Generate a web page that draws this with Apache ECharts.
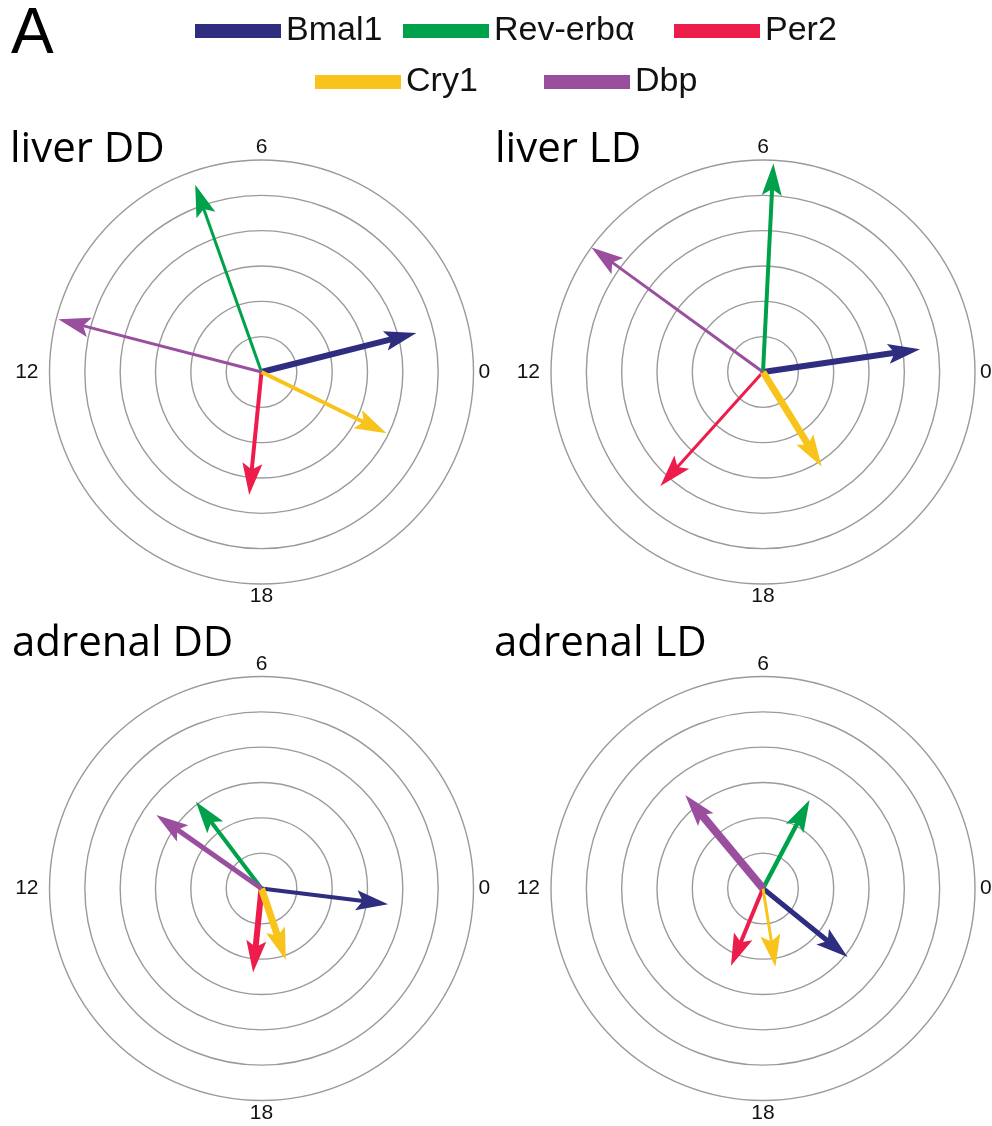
<!DOCTYPE html>
<html>
<head>
<meta charset="utf-8">
<script src="https://cdn.jsdelivr.net/npm/echarts@6/dist/echarts.min.js"></script>
<style>
  html, body { margin: 0; padding: 0; background: #ffffff; }
  #chart { width: 992px; height: 1126px; }
</style>
</head>
<body>
<div id="chart"></div>
<script>
// Clock genes shown as phase vectors (angle = peak time in h, length = amplitude)
const genes = ['Bmal1', 'Rev-erbα', 'Per2', 'Cry1', 'Dbp'];
const panelTitles = ['liver DD', 'liver LD', 'adrenal DD', 'adrenal LD'];
const hourTicks = [0, 6, 12, 18];

// order of every array below follows `genes`
const phaseLiverDD = [0.94, 7.30, 17.62, 22.26, 11.03];
const ampLiverDD   = [4.52, 5.62, 3.50, 3.94, 5.94];
const weightLiverDD = [6, 3, 4, 4, 3];

const phaseLiverLD = [0.55, 5.81, 15.20, 20.12, 9.60];
const ampLiverLD   = [4.49, 5.91, 4.34, 3.15, 6.00];
const weightLiverLD = [6, 4, 3, 7, 3];

const phaseAdrenalDD = [23.53, 8.47, 17.62, 19.25, 9.67];
const ampAdrenalDD   = [3.61, 3.08, 2.39, 2.14, 3.63];
const weightAdrenalDD = [4, 4, 6, 7, 5];

const phaseAdrenalLD = [21.40, 4.15, 16.50, 18.60, 8.65];
const ampAdrenalLD   = [3.08, 2.83, 2.37, 2.24, 3.44];
const weightAdrenalLD = [5, 4.5, 4, 3, 8];

const panelPhases  = [phaseLiverDD, phaseLiverLD, phaseAdrenalDD, phaseAdrenalLD];
const panelAmps    = [ampLiverDD, ampLiverLD, ampAdrenalDD, ampAdrenalLD];
const panelWeights = [weightLiverDD, weightLiverLD, weightAdrenalDD, weightAdrenalLD];

// styling / layout
const geneColors = ['#2e2d7f', '#00a14b', '#ec1c4b', '#f8c31a', '#9a4f9e'];
const panelCenters = [[261.5, 372], [763, 372], [261.5, 888.5], [763, 888.5]];
const panelRadius = 212;
const titlePos = [[10, 150], [495, 150], [12, 644.5], [494, 644.5]];
const legendPos = [[195, 14], [403, 14], [674, 14], [315, 65], [544, 65]];

const chart = echarts.init(document.getElementById('chart'), null, { renderer: 'canvas' });

// Arrow from the pole to (amplitude, phase): a straight shaft plus a notched head
function renderArrow(params, api) {
  const amp = api.value(0);
  const hour = api.value(1);
  const w = api.value(2);
  const tip = api.coord([amp, hour]);
  const c = api.coord([0, hour]);
  const dx = tip[0] - c[0], dy = tip[1] - c[1];
  const len = Math.hypot(dx, dy) || 1;
  const ux = dx / len, uy = dy / len;
  const nx = -uy, ny = ux;
  const L = Math.min(32, len * 0.6);
  const W = Math.max(10, w / 2 + 3);
  const notch = L * 0.8;
  const bx = tip[0] - ux * L, by = tip[1] - uy * L;
  const kx = tip[0] - ux * notch, ky = tip[1] - uy * notch;
  const color = api.visual('color');
  return {
    type: 'group',
    children: [
      {
        type: 'line',
        shape: { x1: c[0], y1: c[1], x2: kx + ux * 0.5, y2: ky + uy * 0.5 },
        style: { stroke: color, lineWidth: w, lineCap: 'butt' }
      },
      {
        type: 'polygon',
        shape: { points: [tip, [bx + nx * W, by + ny * W], [kx, ky], [bx - nx * W, by - ny * W]] },
        style: { fill: color }
      }
    ]
  };
}

const polar = panelCenters.map(c => ({ center: c, radius: panelRadius }));

const angleAxis = panelCenters.map((c, i) => ({
  polarIndex: i,
  type: 'value',
  min: 0,
  max: 24,
  interval: 6,
  startAngle: 0,
  clockwise: false,
  axisLine: { show: false },
  axisTick: { show: false },
  splitLine: { show: false },
  axisLabel: {
    show: true,
    margin: 5,
    fontSize: 21,
    lineHeight: 15,
    fontFamily: 'Liberation Sans',
    color: '#111111',
    formatter: v => {
      if (hourTicks.indexOf(v) < 0) return '';
      return v === 12 ? '{far|12}' : String(v);
    },
    rich: {
      far: { fontSize: 21, lineHeight: 15, fontFamily: 'Liberation Sans', color: '#111111', padding: [0, 6, 0, 0] }
    }
  }
}));

const radiusAxis = panelCenters.map((c, i) => ({
  polarIndex: i,
  type: 'value',
  min: 0,
  max: 6,
  interval: 1,
  axisLine: { show: false },
  axisTick: { show: false },
  axisLabel: { show: false },
  splitLine: { show: true, lineStyle: { color: '#9a9a9a', width: 1.4 } }
}));

const series = [];
panelTitles.forEach((t, p) => {
  genes.forEach((g, k) => {
    series.push({
      type: 'custom',
      name: g,
      coordinateSystem: 'polar',
      polarIndex: p,
      dimensions: ['amplitude', 'hour', 'weight'],
      encode: { radius: 0, angle: 1 },
      itemStyle: { color: geneColors[k] },
      renderItem: renderArrow,
      silent: true,
      data: [[panelAmps[p][k], panelPhases[p][k], panelWeights[p][k]]]
    });
  });
});

const legend = genes.map((g, k) => ({
  data: [g],
  left: legendPos[k][0],
  top: legendPos[k][1],
  padding: 0,
  icon: 'rect',
  itemWidth: 86,
  itemHeight: 14,
  selectedMode: false,
  textStyle: { fontSize: 34, fontFamily: 'Liberation Sans', color: '#111111', lineHeight: 34 }
}));

const graphic = [
  {
    type: 'text', x: 11, y: 35,
    style: { text: 'A', fontSize: 64, fontFamily: 'Liberation Sans', fill: '#000000', align: 'left', verticalAlign: 'middle' }
  }
].concat(panelTitles.map((t, p) => ({
  type: 'text', x: titlePos[p][0], y: titlePos[p][1],
  style: { text: t, fontSize: 42, fontFamily: 'Open Sans', fill: '#000000', align: 'left', verticalAlign: 'middle' }
})));

chart.setOption({
  animation: false,
  backgroundColor: '#ffffff',
  polar: polar,
  angleAxis: angleAxis,
  radiusAxis: radiusAxis,
  legend: legend,
  graphic: graphic,
  series: series
});
</script>
</body>
</html>
